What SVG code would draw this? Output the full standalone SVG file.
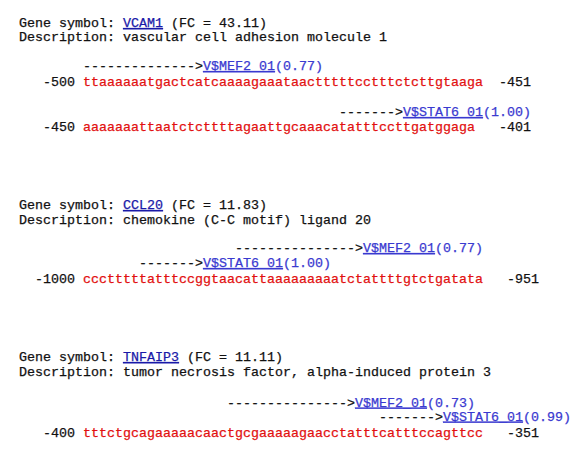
<svg xmlns="http://www.w3.org/2000/svg" width="584" height="456" viewBox="0 0 584 456">
<style>
text{font-family:"Liberation Mono","Courier New",monospace;font-size:13.333px;fill:#111;stroke:#111;stroke-width:0.25px;white-space:pre}
.gl{fill:#1a1aa8;stroke:#1a1aa8;text-decoration:underline}
.ml{fill:#3a3ad0;stroke:#3a3ad0;text-decoration:underline}
.sc{fill:#3a3ad0;stroke:#3a3ad0}
.seq{fill:#e21010;stroke:#e21010}
</style>
<rect width="584" height="456" fill="#fff"/>
<g id="vcam1">
<text x="19" y="27">Gene symbol: </text><text class="gl" x="123" y="27">VCAM1</text><text x="171" y="27">(FC = 43.11)</text>
<text x="19" y="41">Description: vascular cell adhesion molecule 1</text>
<text x="83" y="70">--------------&gt;</text><text class="ml" x="203" y="70">V$MEF2_01</text><text class="sc" x="275" y="70">(0.77)</text>
<text x="43" y="86">-500</text><text class="seq" x="83" y="86">ttaaaaaatgactcatcaaaagaaataactttttcctttctcttgtaaga</text><text x="499" y="86">-451</text>
<text x="339" y="116">-------&gt;</text><text class="ml" x="403" y="116">V$STAT6_01</text><text class="sc" x="483" y="116">(1.00)</text>
<text x="43" y="131">-450</text><text class="seq" x="83" y="131">aaaaaaattaatctcttttagaattgcaaacatatttccttgatggaga</text><text x="499" y="131">-401</text>
</g>
<g id="ccl20">
<text x="19" y="209">Gene symbol: </text><text class="gl" x="123" y="209">CCL20</text><text x="171" y="209">(FC = 11.83)</text>
<text x="19" y="223.5">Description: chemokine (C-C motif) ligand 20</text>
<text x="235" y="252">---------------&gt;</text><text class="ml" x="363" y="252">V$MEF2_01</text><text class="sc" x="435" y="252">(0.77)</text>
<text x="139" y="267">-------&gt;</text><text class="ml" x="203" y="267">V$STAT6_01</text><text class="sc" x="283" y="267">(1.00)</text>
<text x="35" y="283">-1000</text><text class="seq" x="83" y="283">ccctttttatttccggtaacattaaaaaaaaatctattttgtctgatata</text><text x="507" y="283">-951</text>
</g>
<g id="tnfaip3">
<text x="19" y="361">Gene symbol: </text><text class="gl" x="123" y="361">TNFAIP3</text><text x="187" y="361">(FC = 11.11)</text>
<text x="19" y="375.5">Description: tumor necrosis factor, alpha-induced protein 3</text>
<text x="227" y="406.5">---------------&gt;</text><text class="ml" x="355" y="406.5">V$MEF2_01</text><text class="sc" x="427" y="406.5">(0.73)</text>
<text x="379" y="420.5">-------&gt;</text><text class="ml" x="443" y="420.5">V$STAT6_01</text><text class="sc" x="523" y="420.5">(0.99)</text>
<text x="43" y="436.5">-400</text><text class="seq" x="83" y="436.5">tttctgcagaaaaacaactgcgaaaaagaacctatttcatttccagttcc</text><text x="507" y="436.5">-351</text>
</g>
<g id="connectors"/>
</svg>
